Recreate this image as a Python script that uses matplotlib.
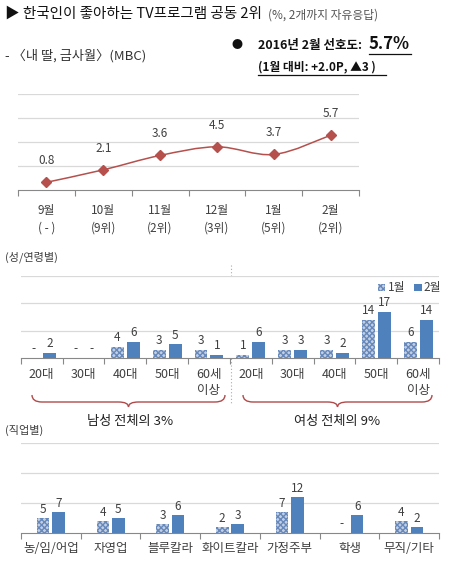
import matplotlib
matplotlib.use("Agg")
import matplotlib.pyplot as plt
import numpy as np
from matplotlib.path import Path
from matplotlib.patches import PathPatch, Patch

plt.rcParams['font.family'] = ['Noto Sans CJK KR', 'DejaVu Sans']

# data
months = ['9월\n( - )', '10월\n(9위)', '11월\n(2위)', '12월\n(3위)', '1월\n(5위)', '2월\n(2위)']
pref = [0.8, 2.1, 3.6, 4.5, 3.7, 5.7]

age_labels = ['20대', '30대', '40대', '50대', '60세\n이상',
              '20대', '30대', '40대', '50대', '60세\n이상']
age_jan = [None, None, 4, 3, 3, 1, 3, 3, 14, 6]
age_feb = [2, None, 6, 5, 1, 6, 3, 2, 17, 14]

job_labels = ['농/임/어업', '자영업', '블루칼라', '화이트칼라', '가정주부', '학생', '무직/기타']
job_jan = [5, 4, 3, 2, 7, None, 4]
job_feb = [7, 5, 6, 3, 12, 6, 2]

BLUE = '#4F81BD'
RED = '#B5504C'
GRID = '#d9d9d9'
TXT = '#404040'
HATCH_FC = '#c3d0e4'
HATCH_EC = '#6688bb'

W, H = 449, 563
fig = plt.figure(figsize=(W / 100, H / 100), dpi=100)


def px_axes(x0, y_top, x1, y_bot):
    return fig.add_axes([x0 / W, 1 - y_bot / H, (x1 - x0) / W, (y_bot - y_top) / H])


def style(ax, ymax, step):
    ax.set_ylim(0, ymax)
    ax.set_yticks(np.arange(step, ymax + 0.01, step))
    ax.yaxis.grid(True, color=GRID, lw=0.9)
    ax.set_axisbelow(True)
    for s in ['top', 'right', 'left']:
        ax.spines[s].set_visible(False)
    ax.spines['bottom'].set_color('#888888')
    ax.tick_params(axis='y', left=False, labelleft=False)
    ax.tick_params(axis='x', which='major', length=4, color='#888888', direction='out')
    ax.tick_params(axis='x', which='minor', length=0, labelsize=8.5, labelcolor=TXT, pad=3)


# overlay for free text
ov = fig.add_axes([0, 0, 1, 1])
ov.set_xlim(0, W)
ov.set_ylim(H, 0)
ov.axis('off')

# ---- line chart
ax1 = px_axes(18, 94, 359, 190)
style(ax1, 10, 2.5)
n = len(pref)
ax1.set_xlim(0, n)
ax1.set_xticks(np.arange(n + 1))
ax1.set_xticklabels([])
ax1.set_xticks(np.arange(n) + 0.5, minor=True)
ax1.set_xticklabels(months, minor=True, linespacing=1.45)
ax1.tick_params(axis='x', which='minor', pad=10)

xs = np.arange(n) + 0.5
pts = np.column_stack([xs, pref])
verts = [pts[0]]
codes = [Path.MOVETO]
for i in range(n - 1):
    p0 = pts[i - 1] if i > 0 else pts[i]
    p3 = pts[i + 2] if i + 2 < n else pts[i + 1]
    c1 = pts[i] + (pts[i + 1] - p0) / 6
    c2 = pts[i + 1] - (p3 - pts[i]) / 6
    verts += [c1, c2, pts[i + 1]]
    codes += [Path.CURVE4] * 3
ax1.add_patch(PathPatch(Path(verts, codes), fc='none', ec=RED, lw=1.1))
ax1.plot(xs, pref, ls='none', marker='D', ms=5, color=RED)
for x, v in zip(xs, pref):
    ax1.annotate(f'{v:.1f}', (x, v), xytext=(0, 11), textcoords='offset points',
                 ha='center', va='bottom', fontsize=8.5, color=TXT)


def bars(ax, jan, feb, off, bw):
    idx = np.arange(len(jan)) + 0.5
    for i, (a, b) in enumerate(zip(jan, feb)):
        for val, dx, kind in [(a, -off, 'jan'), (b, off, 'feb')]:
            x = idx[i] + dx
            if val is not None:
                if kind == 'jan':
                    ax.bar(x, val, bw, color=HATCH_FC, edgecolor=HATCH_EC, hatch='xxxxxx', lw=0)
                else:
                    ax.bar(x, val, bw, color=BLUE, lw=0)
                lab = str(val)
            else:
                val = 0
                lab = '-'
            ax.annotate(lab, (x, val), xytext=(0, 2), textcoords='offset points',
                        ha='center', va='bottom', fontsize=8.5, color=TXT)


# ---- age chart
ax2 = px_axes(20.7, 276, 439, 358)
style(ax2, 30, 10)
m = len(age_labels)
ax2.set_xlim(0, m)
ax2.set_xticks(np.arange(m + 1))
ax2.set_xticklabels([])
ax2.set_xticks(np.arange(m) + 0.5, minor=True)
ax2.set_xticklabels(age_labels, minor=True, linespacing=1.35, va='top')
ax2.tick_params(axis='x', which='minor', labelsize=9, pad=7)
bars(ax2, age_jan, age_feb, 0.19, 0.31)
ax2.legend(handles=[Patch(facecolor=HATCH_FC, edgecolor=HATCH_EC, hatch='xxxxxx', lw=0, label='1월'),
                    Patch(facecolor=BLUE, label='2월')],
           ncol=2, frameon=False, fontsize=8.5, handlelength=0.6, handleheight=0.6,
           handletextpad=0.2, columnspacing=0.8, loc='center right',
           bbox_to_anchor=(452 / W, 1 - 288 / H), bbox_transform=fig.transFigure,
           labelcolor=TXT)

# ---- job chart
ax3 = px_axes(21, 443.3, 439, 533.3)
style(ax3, 30, 10)
k = len(job_labels)
ax3.set_xlim(0, k)
ax3.set_xticks(np.arange(k + 1))
ax3.set_xticklabels([])
ax3.set_xticks(np.arange(k) + 0.5, minor=True)
ax3.set_xticklabels(job_labels, minor=True)
ax3.tick_params(axis='x', which='minor', labelsize=9, pad=6)
bars(ax3, job_jan, job_feb, 0.13, 0.21)

# ---- text
ov.text(5, 14, '▶ 한국인이 좋아하는 TV프로그램 공동 2위', fontsize=10.5, va='center', color='#111111')
ov.text(268, 15, '(%, 2개까지 자유응답)', fontsize=8.5, va='center', color='#555555')
ov.text(5, 56, '- 〈내 딸, 금사월〉(MBC)', fontsize=9.5, va='center', color='#333333')
ov.text(237, 45, '●', fontsize=8, va='center', ha='center', color='#111111')
ov.text(258, 46, '2016년 2월 선호도:', fontsize=9, va='center', weight='bold', color='#111111')
ov.text(369, 44, '5.7%', fontsize=12, va='center', weight='bold', color='#111111')
ov.plot([369, 411], [54, 54], color='#111111', lw=0.9)
ov.text(258, 67, '(1월 대비: +2.0P, ▲3 )', fontsize=8.5, va='center', weight='bold', color='#111111')
ov.plot([258, 386], [75, 75], color='#111111', lw=0.9)

ov.text(5, 257, '(성/연령별)', fontsize=8, va='center', color=TXT)
ov.text(5, 430, '(직업별)', fontsize=8, va='center', color=TXT)

# divider between men / women
ov.plot([231, 231], [265, 403], color='#aaaaaa', lw=0.8, ls=(0, (1, 2)))


def brace(x0, x1, ytop, ymid, ybot, r=10):
    xc = (x0 + x1) / 2
    v = [(x0, ytop), (x0, ymid), (x0 + r, ymid), (xc - r, ymid), (xc, ymid), (xc, ybot),
         (xc, ymid), (xc + r, ymid), (x1 - r, ymid), (x1, ymid), (x1, ytop)]
    c = [Path.MOVETO, Path.CURVE3, Path.CURVE3, Path.LINETO, Path.CURVE3, Path.CURVE3,
         Path.CURVE3, Path.CURVE3, Path.LINETO, Path.CURVE3, Path.CURVE3]
    ov.add_patch(PathPatch(Path(v, c), fc='none', ec='#B04A4A', lw=1))


brace(32, 225, 395, 402, 407)
brace(243, 432, 395, 402, 407)
ov.text(130, 421, '남성 전체의 3%', fontsize=9.5, ha='center', va='center', color='#222222')
ov.text(337, 421, '여성 전체의 9%', fontsize=9.5, ha='center', va='center', color='#222222')

fig.savefig('out.png', dpi=100)
